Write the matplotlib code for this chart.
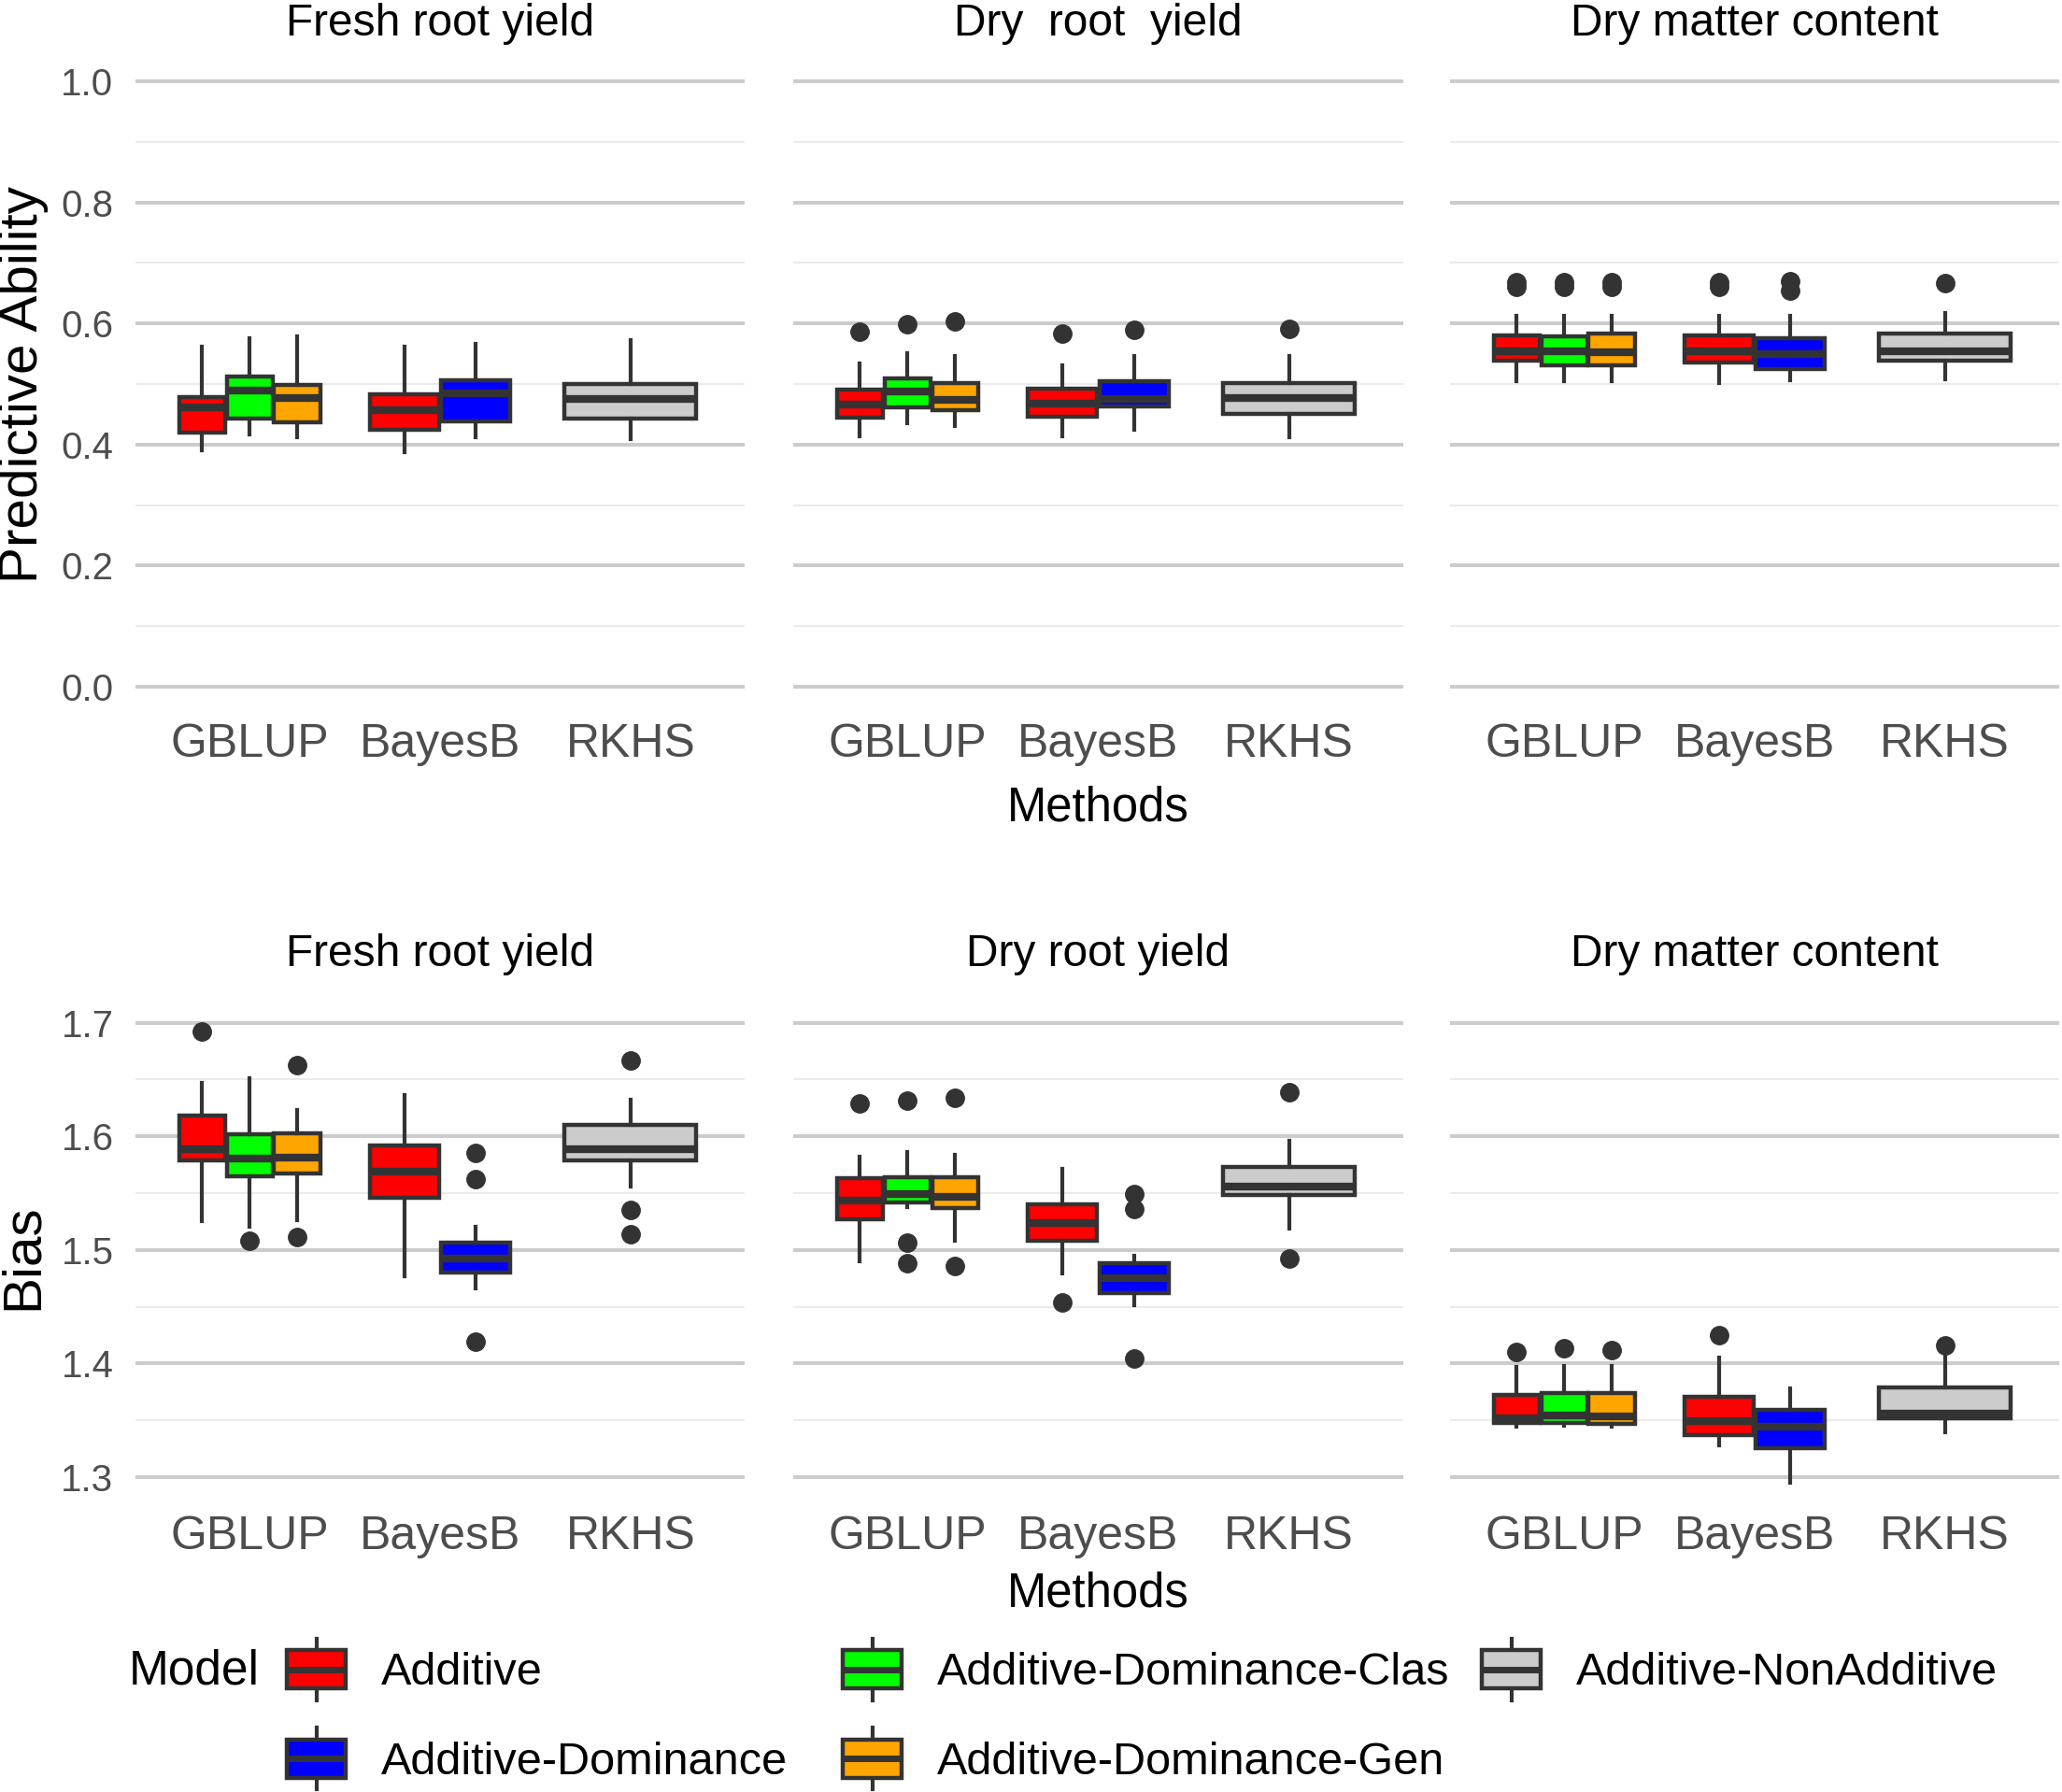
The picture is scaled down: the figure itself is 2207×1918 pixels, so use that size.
import matplotlib
matplotlib.use("Agg")
import matplotlib.pyplot as plt
from matplotlib.patches import Rectangle, Patch
from matplotlib.lines import Line2D
from matplotlib.legend_handler import HandlerBase

plt.rcParams['font.family'] = ['Liberation Sans', 'DejaVu Sans']

# ---- data ----
methods = ["GBLUP", "BayesB", "RKHS"]
models = ["Additive", "Additive-Dominance", "Additive-Dominance-Clas",
          "Additive-Dominance-Gen", "Additive-NonAdditive"]
model_colors = ["#FF0000", "#0000FF", "#00FF00", "#FFA500", "#CCCCCC"]

# one box per (method, model) pair, same order in every list below
box_method = [0, 0, 0, 1, 1, 2]
box_model = ["Additive", "Additive-Dominance-Clas", "Additive-Dominance-Gen",
             "Additive", "Additive-Dominance", "Additive-NonAdditive"]

top_titles = ["Fresh root yield", "Dry  root  yield", "Dry matter content"]
bottom_titles = ["Fresh root yield", "Dry root yield", "Dry matter content"]

# Predictive ability: rows = traits (fresh, dry root, dry matter)
pa_low = [[0.390, 0.417, 0.412, 0.388, 0.412, 0.409],
          [0.413, 0.435, 0.431, 0.413, 0.425, 0.412],
          [0.504, 0.504, 0.504, 0.502, 0.506, 0.508]]
pa_q1 = [[0.419, 0.443, 0.437, 0.425, 0.439, 0.443],
         [0.445, 0.462, 0.457, 0.446, 0.463, 0.451],
         [0.539, 0.531, 0.531, 0.535, 0.524, 0.538]]
pa_med = [[0.461, 0.489, 0.477, 0.457, 0.485, 0.476],
          [0.466, 0.487, 0.474, 0.467, 0.476, 0.477],
          [0.554, 0.554, 0.552, 0.554, 0.550, 0.554]]
pa_q3 = [[0.479, 0.512, 0.499, 0.483, 0.506, 0.500],
         [0.490, 0.509, 0.501, 0.492, 0.504, 0.502],
         [0.580, 0.579, 0.583, 0.580, 0.576, 0.583]]
pa_high = [[0.561, 0.575, 0.579, 0.561, 0.567, 0.572],
           [0.534, 0.551, 0.546, 0.531, 0.547, 0.547],
           [0.612, 0.612, 0.612, 0.612, 0.612, 0.618]]
pa_out = [[[], [], [], [], [], []],
          [[0.587], [0.598], [0.604], [0.584], [0.589], [0.591]],
          [[0.668, 0.661], [0.668, 0.661], [0.668, 0.661], [0.668, 0.661],
           [0.669, 0.655], [0.667]]]

# Bias
bias_low = [[1.525, 1.520, 1.526, 1.477, 1.466, 1.556],
            [1.490, 1.538, 1.508, 1.479, 1.451, 1.519],
            [1.344, 1.345, 1.344, 1.328, 1.295, 1.339]]
bias_q1 = [[1.579, 1.565, 1.567, 1.546, 1.480, 1.579],
           [1.527, 1.542, 1.537, 1.508, 1.462, 1.548],
           [1.348, 1.348, 1.347, 1.337, 1.325, 1.352]]
bias_med = [[1.589, 1.580, 1.581, 1.569, 1.492, 1.589],
            [1.543, 1.549, 1.547, 1.524, 1.475, 1.556],
            [1.352, 1.354, 1.353, 1.349, 1.344, 1.356]]
bias_q3 = [[1.618, 1.602, 1.603, 1.592, 1.506, 1.610],
           [1.563, 1.564, 1.564, 1.540, 1.488, 1.573],
           [1.372, 1.374, 1.374, 1.371, 1.359, 1.379]]
bias_high = [[1.647, 1.651, 1.623, 1.636, 1.520, 1.632],
             [1.582, 1.586, 1.584, 1.571, 1.495, 1.596],
             [1.397, 1.398, 1.398, 1.405, 1.378, 1.410]]
bias_out = [[[1.692], [1.508], [1.663, 1.511], [], [1.585, 1.562, 1.419], [1.667, 1.535, 1.514]],
            [[1.629], [1.631, 1.506, 1.488], [1.634, 1.486], [1.454], [1.549, 1.536, 1.404], [1.639, 1.492]],
            [[1.410], [1.413], [1.412], [1.425], [], [1.416]]]

# ---- layout ----
W, H = 2207, 1918
DARK = "#333333"
fig = plt.figure(figsize=(W / 100, H / 100), dpi=100)

panel_x = [(145, 797), (849, 1502), (1552, 2204)]


def px_axes(x0, x1, y0, y1):
    return fig.add_axes([x0 / W, 1 - y1 / H, (x1 - x0) / W, (y1 - y0) / H])


# dodge: boxes share 0.75 of each method slot
def dodge(n_in_group, k):
    width = 0.75 / n_in_group
    return -0.375 + width * (k + 0.5), width


def box_positions():
    pos, wid = [], []
    counts = [box_method.count(m) for m in range(len(methods))]
    seen = [0] * len(methods)
    for m in box_method:
        off, w = dodge(counts[m], seen[m])
        seen[m] += 1
        pos.append(m + 1 + off)
        wid.append(w * (0.92 if counts[m] == 1 else 0.97))
    return pos, wid


def draw_panel(ax, low, q1, med, q3, high, out, xpad):
    pos, wid = box_positions()
    stats = []
    for i in range(len(box_model)):
        stats.append(dict(whislo=low[i], q1=q1[i], med=med[i], q3=q3[i],
                          whishi=high[i], fliers=out[i]))
    res = ax.bxp(stats, positions=pos, widths=wid, patch_artist=True,
                 showcaps=False,
                 boxprops=dict(edgecolor=DARK, linewidth=3.2),
                 whiskerprops=dict(color=DARK, linewidth=3),
                 medianprops=dict(color=DARK, linewidth=6, solid_capstyle='butt'),
                 flierprops=dict(marker='o', markerfacecolor=DARK,
                                 markeredgecolor=DARK, markersize=14))
    for patch, mdl in zip(res['boxes'], box_model):
        patch.set_facecolor(model_colors[models.index(mdl)])
    ax.set_xlim(0.4, 3.6)
    ax.set_xticks([1, 2, 3])
    ax.set_xticklabels(methods)
    for s in ax.spines.values():
        s.set_visible(False)
    ax.tick_params(axis='both', length=0, colors='#4D4D4D')
    ax.tick_params(axis='x', labelsize=36, pad=xpad)
    ax.tick_params(axis='y', labelsize=29, pad=17)
    ax.grid(which='major', axis='y', color='#CCCCCC', linewidth=2.9)
    ax.grid(which='minor', axis='y', color='#EBEBEB', linewidth=1.5)
    ax.grid(which='both', axis='x', visible=False)
    ax.set_axisbelow(True)


rows = [
    dict(y=(54.6, 767.4), lim=(-0.05, 1.05), major=[0, 0.2, 0.4, 0.6, 0.8, 1.0],
         minor=[0.1, 0.3, 0.5, 0.7, 0.9], fmt="{:.1f}", xpad=5,
         data=(pa_low, pa_q1, pa_med, pa_q3, pa_high, pa_out),
         titles=top_titles, title_y=26, ylabel="Predictive Ability", methods_y=865),
    dict(y=(1080, 1611), lim=(1.2752, 1.712), major=[1.3, 1.4, 1.5, 1.6, 1.7],
         minor=[1.35, 1.45, 1.55, 1.65], fmt="{:.1f}", xpad=8,
         data=(bias_low, bias_q1, bias_med, bias_q3, bias_high, bias_out),
         titles=bottom_titles, title_y=1022, ylabel="Bias", methods_y=1706),
]

for row in rows:
    y0, y1 = row['y']
    for t, (x0, x1) in enumerate(panel_x):
        ax = px_axes(x0, x1, y0, y1)
        d = [arr[t] for arr in row['data']]
        draw_panel(ax, *d, xpad=row['xpad'])
        ax.set_ylim(*row['lim'])
        ax.set_yticks(row['major'])
        ax.set_yticks(row['minor'], minor=True)
        ax.tick_params(which='minor', length=0)
        if t == 0:
            ax.set_yticklabels([row['fmt'].format(v) for v in row['major']])
        else:
            ax.tick_params(axis='y', labelleft=False)
        fig.text((x0 + x1) / 2 / W, 1 - row['title_y'] / H, row['titles'][t],
                 ha='center', va='center', fontsize=34.5, color='black')
    fig.text(25 / W, 1 - (y0 + y1) / 2 / H, row['ylabel'], rotation=90,
             ha='center', va='center', fontsize=42, color='black')
    fig.text((849 + 1502) / 2 / W, 1 - row['methods_y'] / H, "Methods",
             ha='center', va='center', fontsize=36.6, color='black')


# ---- legend ----
class BoxHandler(HandlerBase):
    def create_artists(self, legend, orig_handle, xdescent, ydescent,
                       width, height, fontsize, trans):
        x0, y0 = -xdescent, -ydescent
        cx = x0 + width / 2
        w_up = Line2D([cx, cx], [y0 + height, y0 + height * 1.3], color=DARK,
                      linewidth=3, transform=trans)
        w_dn = Line2D([cx, cx], [y0, y0 - height * 0.3], color=DARK,
                      linewidth=3, transform=trans)
        box = Rectangle((x0, y0), width, height,
                        facecolor=orig_handle.get_facecolor(), edgecolor=DARK,
                        linewidth=3.2, transform=trans)
        mid = Line2D([x0, x0 + width], [y0 + height / 2] * 2, color=DARK,
                     linewidth=5, transform=trans, solid_capstyle='butt')
        return [w_up, w_dn, box, mid]


handles = [Patch(facecolor=c) for c in model_colors]
legend_cols = [[0, 1], [2, 3], [4]]
legend_x = [307, 902, 1586]
for col, lx in zip(legend_cols, legend_x):
    fig.legend([handles[i] for i in col], [models[i] for i in col],
               handler_map={Patch: BoxHandler()},
               loc='upper left', bbox_to_anchor=(lx / W, 1 - 1766 / H),
               frameon=False, fontsize=35, borderpad=0, borderaxespad=0,
               handlelength=1.30, handleheight=0.93, handletextpad=0.78,
               labelspacing=0.99)

fig.text(138 / W, 1 - 1789 / H, "Model", ha='left', va='center',
         fontsize=37, color='black')

fig.savefig("out.png", dpi=100, facecolor='white')
